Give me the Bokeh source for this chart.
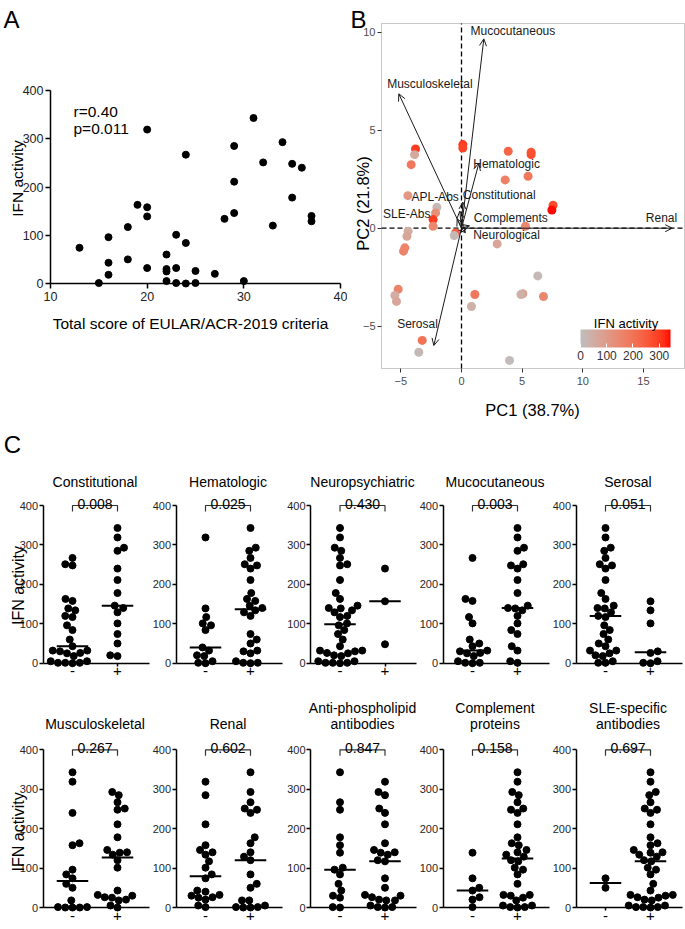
import math
import numpy as np
from bokeh.plotting import figure
from bokeh.models import (ColumnDataSource, Label, Arrow, OpenHead, BoxAnnotation,
                          LinearColorMapper, ColorBar, FixedTicker, Range1d)
from bokeh.layouts import row, column
from bokeh.core.properties import value
from bokeh.embed import file_html
from bokeh.resources import INLINE

FONT = "Liberation Sans"

# ============================ DATA ============================
# ---- Panel A: EULAR/ACR score vs IFN activity ----
eular_score = [13, 15, 16, 16, 16, 18, 18, 19, 20, 20, 20, 20, 22, 22, 22, 22, 23, 23, 23,
               24, 24, 24, 25, 25, 27, 28, 29, 29, 29, 30, 31, 32, 33, 34, 35, 35, 36, 37, 37]
ifn_activity = [74, 1, 96, 43, 18, 117, 50, 163, 319, 158, 139, 32, 60, 30, 25, 5, 101, 32, 1,
                267, 84, 0, 26, 1, 20, 134, 285, 211, 146, 5, 343, 251, 120, 293, 248, 178, 240, 140, 129]
corr_texts = ["r=0.40", "p=0.011"]
a_xlabel = "Total score of EULAR/ACR-2019 criteria"
ifn_label = "IFN activity"
a_xticks = [10, 20, 30, 40]
ifn_ticks = [0, 100, 200, 300, 400]

# ---- Panel B: PCA biplot ----
pc1_scores = [-3.79, -3.87, -4.15, 0.11, 0.11, 3.85, 5.74, 5.74, 3.60, 5.49, 7.55, 7.45,
              -4.42, -2.03, -2.14, -2.34, -2.34, -4.40, -4.50, -4.67, -4.78, -0.49, -0.60,
              5.27, 2.94, 6.29, 5.05, 4.90, 6.76, 1.10, 0.82, -5.22, -5.49, -5.36, -3.24, -3.52, 3.96]
pc2_scores = [4.04, 3.75, 3.24, 4.26, 4.09, 3.92, 3.87, 3.75, 2.46, 2.65, 1.17, 0.93,
              1.66, 1.07, 0.78, 0.44, 0.10, -0.15, -0.41, -1.00, -1.17, -0.24, -0.37,
              0.10, -0.80, -2.43, -3.34, -3.38, -3.48, -3.38, -3.99, -3.11, -3.43, -3.73, -5.72, -6.32, -6.74]
pc_ifn = [300, 60, 190, 300, 290, 230, 260, 270, 170, 190, 280, 340,
          110, 20, 130, 300, 150, 50, 70, 160, 160, 250, 15,
          150, 70, 20, 100, 40, 150, 190, 40, 160, 50, 70, 200, 20, 10]
loading_names = ["Mucocutaneous", "Musculoskeletal", "Hematologic", "Constitutional", "APL-Abs",
                 "SLE-Abs", "Complements", "Neurological", "Renal", "Serosal"]
loading_pc1 = [1.84, -5.17, 1.43, 0.11, -0.14, -0.36, 0.66, 0.33, 17.37, -2.28]
loading_pc2 = [9.65, 6.85, 3.31, 1.33, 0.87, 0.48, 0.12, -0.23, 0.0, -5.98]
pc1_title = "PC1 (38.7%)"
pc2_title = "PC2 (21.8%)"
b_xticks = [-5, 0, 5, 10, 15]
b_yticks = [-5, 0, 5, 10]
cbar_ticks = [0, 100, 200, 300]

# ---- Panel C: IFN activity by manifestation (- / +) ----
constitutional_neg = [267, 251, 248, 163, 158, 139, 134, 120, 117, 96, 84, 60, 43, 32, 32, 30, 26, 25, 18, 5, 5, 1, 1, 1, 0]
constitutional_pos = [343, 319, 293, 285, 240, 211, 178, 146, 140, 129, 101, 74, 50, 20, 18]
hematologic_neg = [319, 139, 117, 101, 96, 84, 40, 32, 20, 18, 5, 1, 0]
hematologic_pos = [343, 293, 285, 267, 251, 248, 240, 211, 178, 163, 158, 146, 140, 134, 129, 120,
                   74, 60, 50, 32, 30, 25, 5, 1, 1, 0]
neuro_neg = [343, 319, 293, 285, 267, 251, 248, 211, 178, 163, 146, 140, 139, 134, 129, 120, 117, 101,
             96, 84, 74, 60, 43, 32, 32, 30, 26, 25, 20, 18, 5, 5, 1, 1, 1, 0]
neuro_pos = [240, 157, 48]
muco_neg = [267, 163, 158, 117, 101, 60, 50, 43, 32, 30, 26, 25, 18, 5, 1, 1, 0]
muco_pos = [343, 319, 293, 285, 251, 248, 240, 211, 178, 146, 140, 139, 134, 120, 101, 84, 74, 43, 32, 5, 1]
serosal_neg = [343, 319, 293, 285, 267, 251, 248, 240, 211, 178, 163, 146, 140, 139, 129, 120, 117,
               96, 84, 74, 60, 50, 43, 32, 32, 25, 20, 18, 5, 1, 1]
serosal_pos = [157, 134, 101, 30, 26, 5, 1, 0]
musculo_neg = [343, 319, 240, 163, 158, 96, 84, 74, 60, 50, 18, 1, 1, 0, 0, 0]
musculo_pos = [293, 285, 267, 251, 248, 211, 178, 146, 140, 139, 134, 120, 101, 43, 32, 30, 26, 25, 20, 18, 5, 0]
renal_neg = [319, 285, 211, 158, 146, 140, 134, 117, 101, 84, 74, 43, 40, 32, 30, 26, 25, 20, 5, 1]
renal_pos = [343, 293, 267, 251, 248, 240, 178, 163, 140, 129, 120, 84, 60, 50, 18, 18, 5, 1, 1, 0, 0]
apl_neg = [343, 267, 248, 178, 158, 139, 101, 96, 84, 60, 43, 30, 25, 1, 0]
apl_pos = [319, 293, 285, 251, 240, 211, 163, 146, 140, 139, 134, 120, 117, 74, 50, 32, 30, 26, 20, 18, 18, 5, 1, 1, 0]
complement_neg = [139, 74, 50, 43, 26, 20, 1]
complement_pos = [343, 319, 293, 285, 267, 251, 248, 240, 211, 178, 163, 158, 146, 140, 134, 129, 120, 117,
                  101, 96, 84, 60, 32, 32, 30, 25, 18, 5, 5, 1, 1, 0]
sle_neg = [74, 50]
sle_pos = [343, 319, 293, 285, 267, 251, 248, 240, 211, 178, 163, 158, 146, 140, 139, 134, 129, 120, 117,
           101, 96, 84, 60, 43, 32, 32, 30, 26, 25, 20, 18, 5, 5, 1, 1, 1, 0]
c_titles = ["Constitutional", "Hematologic", "Neuropsychiatric", "Mucocutaneous", "Serosal",
            "Musculoskeletal", "Renal", "Anti-phospholipid\nantibodies", "Complement\nproteins",
            "SLE-specific\nantibodies"]
c_pvalues = ["0.008", "0.025", "0.430", "0.003", "0.051", "0.267", "0.602", "0.847", "0.158", "0.697"]
group_labels = ["-", "+"]

c_groups = [(constitutional_neg, constitutional_pos), (hematologic_neg, hematologic_pos),
            (neuro_neg, neuro_pos), (muco_neg, muco_pos), (serosal_neg, serosal_pos),
            (musculo_neg, musculo_pos), (renal_neg, renal_pos), (apl_neg, apl_pos),
            (complement_neg, complement_pos), (sle_neg, sle_pos)]

# ============================ LAYOUT / STYLE ============================
# biplot label offsets from arrow tips (screen px: right, down)
label_dx = [-13.3, -11.6, -5.6, 0.0, -1.0, -26.7, 4.3, 7.7, 5.0, -36.7]
label_dy = [-7.6, -10.0, 0.6, -7.4, -14.0, -5.0, -8.0, 2.7, -10.4, -21.7]
label_align = ["left", "left", "left", "left", "right", "right", "left", "left", "right", "left"]


def lab_ramp(c0, c1, n=256):
    M = np.array([[0.4124564, 0.3575761, 0.1804375],
                  [0.2126729, 0.7151522, 0.0721750],
                  [0.0193339, 0.1191920, 0.9503041]])
    Mi = np.linalg.inv(M)
    wp = np.array([0.95047, 1.0, 1.08883])

    def to_lab(h):
        rgb = np.array([int(h[i:i + 2], 16) for i in (1, 3, 5)]) / 255.0
        lin = np.where(rgb <= 0.04045, rgb / 12.92, ((rgb + 0.055) / 1.055) ** 2.4)
        xyz = M @ lin / wp
        f = np.where(xyz > 0.008856, np.cbrt(xyz), 7.787 * xyz + 16 / 116)
        return np.array([116 * f[1] - 16, 500 * (f[0] - f[1]), 200 * (f[1] - f[2])])

    def to_hex(lab):
        fy = (lab[0] + 16) / 116
        f = np.array([fy + lab[1] / 500, fy, fy - lab[2] / 200])
        xyz = np.where(f ** 3 > 0.008856, f ** 3, (f - 16 / 116) / 7.787) * wp
        lin = np.clip(Mi @ xyz, 0, 1)
        rgb = np.where(lin <= 0.0031308, 12.92 * lin, 1.055 * lin ** (1 / 2.4) - 0.055)
        rgb = np.clip(np.round(rgb * 255), 0, 255).astype(int)
        return "#%02x%02x%02x" % tuple(rgb)

    a, b = to_lab(c0), to_lab(c1)
    return [to_hex(a + (b - a) * t) for t in np.linspace(0, 1, n)]


def make_plot(box, xmap, ymap):
    """Figure whose frame is the whole box; (xmap, ymap) = (page px, data value, px per unit)."""
    bx0, by0, bx1, by1 = box

    def X(ix):
        return xmap[1] + (ix - xmap[0]) / xmap[2]

    def Y(iy):
        return ymap[1] + (ymap[0] - iy) / ymap[2]

    p = figure(width=bx1 - bx0, height=by1 - by0,
               x_range=Range1d(X(bx0), X(bx1)), y_range=Range1d(Y(by1), Y(by0)),
               min_border_left=0, min_border_right=0, min_border_top=0, min_border_bottom=0,
               output_backend="svg", toolbar_location=None, title=None)
    p.outline_line_color = None
    p.xgrid.visible = False
    p.ygrid.visible = False
    return p, X, Y


def style_axis(ax, ticks, tick_out, standoff, size, color, fixed, bounds, lw=1.5, lcol="black",
               tcol="black"):
    ax.fixed_location = fixed
    ax.bounds = bounds
    ax.ticker = FixedTicker(ticks=ticks)
    ax.minor_tick_line_color = None
    ax.major_tick_in = 0
    ax.major_tick_out = tick_out
    ax.major_label_standoff = standoff
    ax.major_label_text_font = FONT
    ax.major_label_text_font_size = size
    ax.major_label_text_color = color
    ax.axis_line_width = lw
    ax.axis_line_color = lcol
    ax.major_tick_line_width = lw
    ax.major_tick_line_color = tcol


def add_text(p, x, y, text, size, align="left", baseline="alphabetic", angle=0.0, color="black"):
    p.add_layout(Label(x=x, y=y, text=text, text_font=FONT, text_font_size=size,
                       text_align=align, text_baseline=baseline, angle=angle,
                       text_color=color))


# ============================ PANEL A ============================
pA, XA, YA = make_plot((0, 0, 347, 420), (50, 10, 290 / 30), (283, 0, 193 / 400))
style_axis(pA.xaxis[0], a_xticks, 5, 3, "12.5px", "#222222", fixed=0, bounds=(10, 40))
style_axis(pA.yaxis[0], ifn_ticks, 5, 2, "12.5px", "#222222", fixed=10, bounds=(0, 400))
pA.scatter(eular_score, ifn_activity, size=7, color="black")
add_text(pA, XA(190), YA(314), a_xlabel, "15.5px", align="center", baseline="top")
add_text(pA, XA(17), YA(178), ifn_label, "15.5px", align="center", angle=math.pi / 2)
add_text(pA, XA(73), YA(111), corr_texts[0], "15.5px")
add_text(pA, XA(73), YA(128), corr_texts[1], "15.5px")
add_text(pA, XA(3), YA(18.5), "A", "24px")

# ============================ PANEL B ============================
BX, BY = 12.13, 19.62
pB, XB, YB = make_plot((347, 0, 685, 420), (461, 0, BX), (227.7, 0, BY))
b_left, b_right, b_top, b_bottom = XB(381), XB(684), YB(23), YB(368)
style_axis(pB.xaxis[0], b_xticks, 4, 4, "11px", "#4D4D4D", fixed=b_bottom,
           bounds=(b_left, b_right), lw=1, lcol=None, tcol="#333333")
style_axis(pB.yaxis[0], b_yticks, 4, 2, "11px", "#4D4D4D", fixed=b_left,
           bounds=(b_bottom, b_top), lw=1, lcol=None, tcol="#333333")

# dashed reference lines at PC = 0 (panel extent)
pB.segment(x0=[0, b_left], y0=[b_bottom, 0], x1=[0, b_right], y1=[b_top, 0],
           line_dash="5 3", line_width=1.3, line_color="black")

palette = lab_ramp("#BEBEBE", "#FF0000")
mapper = LinearColorMapper(palette=palette, low=0, high=max(ifn_activity))
pB.scatter(x="x", y="y", size=9, line_color=None,
           fill_color={"field": "ifn", "transform": mapper},
           source=ColumnDataSource(dict(x=pc1_scores, y=pc2_scores, ifn=pc_ifn)))

n_load = len(loading_names)
arrow_src = ColumnDataSource(dict(x0=[0.0] * n_load, y0=[0.0] * n_load, x1=loading_pc1, y1=loading_pc2))
pB.add_layout(Arrow(end=OpenHead(size=7, line_width=1, line_color="#1a1a1a"),
                    x_start="x0", y_start="y0", x_end="x1", y_end="y1",
                    source=arrow_src, line_width=1, line_color="#1a1a1a"))
for align in ("left", "right"):
    idx = [i for i in range(n_load) if label_align[i] == align]
    pB.text(x=[loading_pc1[i] + label_dx[i] / BX for i in idx],
            y=[loading_pc2[i] - label_dy[i] / BY for i in idx],
            text=[loading_names[i] for i in idx],
            text_font=value(FONT), text_font_size="12px", text_color="#1a1a1a",
            text_align=align, text_baseline="middle")

pB.add_layout(BoxAnnotation(left=b_left, right=b_right, bottom=b_bottom, top=b_top,
                            fill_alpha=0, line_color="#4d4d4d", line_width=1))

cbar = ColorBar(color_mapper=mapper, orientation="horizontal", location=(233, 58),
                width=90, height=18, padding=0, margin=0, title=None,
                ticker=FixedTicker(ticks=cbar_ticks), major_label_text_font=FONT,
                major_label_text_font_size="12px", major_label_text_color="#333333",
                label_standoff=3, major_tick_line_color="white", major_tick_in=4,
                major_tick_out=0, minor_tick_line_color=None, bar_line_color=None,
                border_line_color=None, background_fill_alpha=0)
pB.add_layout(cbar)
add_text(pB, XB(625.5), YB(322.6), ifn_label, "13px", align="center")
add_text(pB, XB(532), YB(409.5), pc1_title, "16.5px", align="center")
add_text(pB, XB(362.5), YB(203), pc2_title, "16.5px", align="center", angle=math.pi / 2)
add_text(pB, XB(350), YB(18.5), "B", "24px")

# ============================ PANEL C ============================
SX = 45.0
SY = 157.7 / 400
axis_x0 = 1 - 29.5 / SX
col_boxes = [(0, 150), (150, 283), (283, 417), (417, 550), (550, 685)]
col_axis = [42.5, 175.5, 310, 442.5, 575.5]
row_boxes = [(420, 690), (690, 929)]
row_zero = [662.7, 907]
title_base = [481, 723]
ifn_center = [585, 831.4]


def swarm_offsets(vals, diam=7.2, step=0.25):
    ys = np.asarray(vals, float) * SY
    px, py = [], []
    offs = np.zeros(len(ys))
    for n, i in enumerate(np.argsort(ys, kind="stable")):
        y = ys[i]
        k = 0
        hit = None
        while hit is None:
            if k == 0:
                cands = [0.0]
            elif n % 2 == 0:
                cands = [k * step, -k * step]
            else:
                cands = [-k * step, k * step]
            for cx in cands:
                if all((cx - a) ** 2 + (y - b) ** 2 >= diam ** 2 for a, b in zip(px, py)):
                    hit = cx
                    break
            k += 1
        offs[i] = hit
        px.append(hit)
        py.append(y)
    return offs


c_figs = []
for k, (title, pval, groups) in enumerate(zip(c_titles, c_pvalues, c_groups)):
    r, c = divmod(k, 5)
    bx0, bx1 = col_boxes[c]
    by0, by1 = row_boxes[r]
    A, Z = col_axis[c], row_zero[r]
    p, X, Y = make_plot((bx0, by0, bx1, by1), (A, axis_x0, SX), (Z, 0, SY))
    style_axis(p.xaxis[0], [1, 2], 3, 0, "15px", "black", fixed=0,
               bounds=(axis_x0, X(min(A + 106, bx1 - 1))))
    p.xaxis[0].major_label_overrides = {1: group_labels[0], 2: group_labels[1]}
    style_axis(p.yaxis[0], ifn_ticks, 4, 1, "11px", "#262626", fixed=axis_x0, bounds=(0, 400))

    for g, vals in zip((1, 2), groups):
        offs = swarm_offsets(vals)
        p.scatter(g + offs / SX, vals, size=7, color="black")
        med = float(np.median(vals))
        p.segment(x0=[g - 0.35], y0=[med], x1=[g + 0.35], y1=[med], line_width=2, line_color="black")

    top_v = ifn_ticks[-1]
    p.line([1, 1, 2, 2], [top_v - 6 / SY, top_v, top_v, top_v - 6 / SY], line_width=1.2, line_color="#333333")
    add_text(p, 1.5, top_v + 1.7 / SY, pval, "14px", align="center")
    lines = title.split("\n")
    for j, ln in enumerate(lines):
        base = title_base[r] - (len(lines) - 1 - j) * 15.6
        add_text(p, 1.5, Y(base), ln, "14px", align="center")
    if c == 0:
        add_text(p, X(17.5), Y(ifn_center[r]), ifn_label, "16px", align="center", angle=math.pi / 2)
    if k == 0:
        add_text(p, X(3.3), Y(444), "C", "24px")
    c_figs.append(p)

layout = column(row(pA, pB), row(*c_figs[:5]), row(*c_figs[5:]))
open("out.html", "w").write(file_html(layout, INLINE))
